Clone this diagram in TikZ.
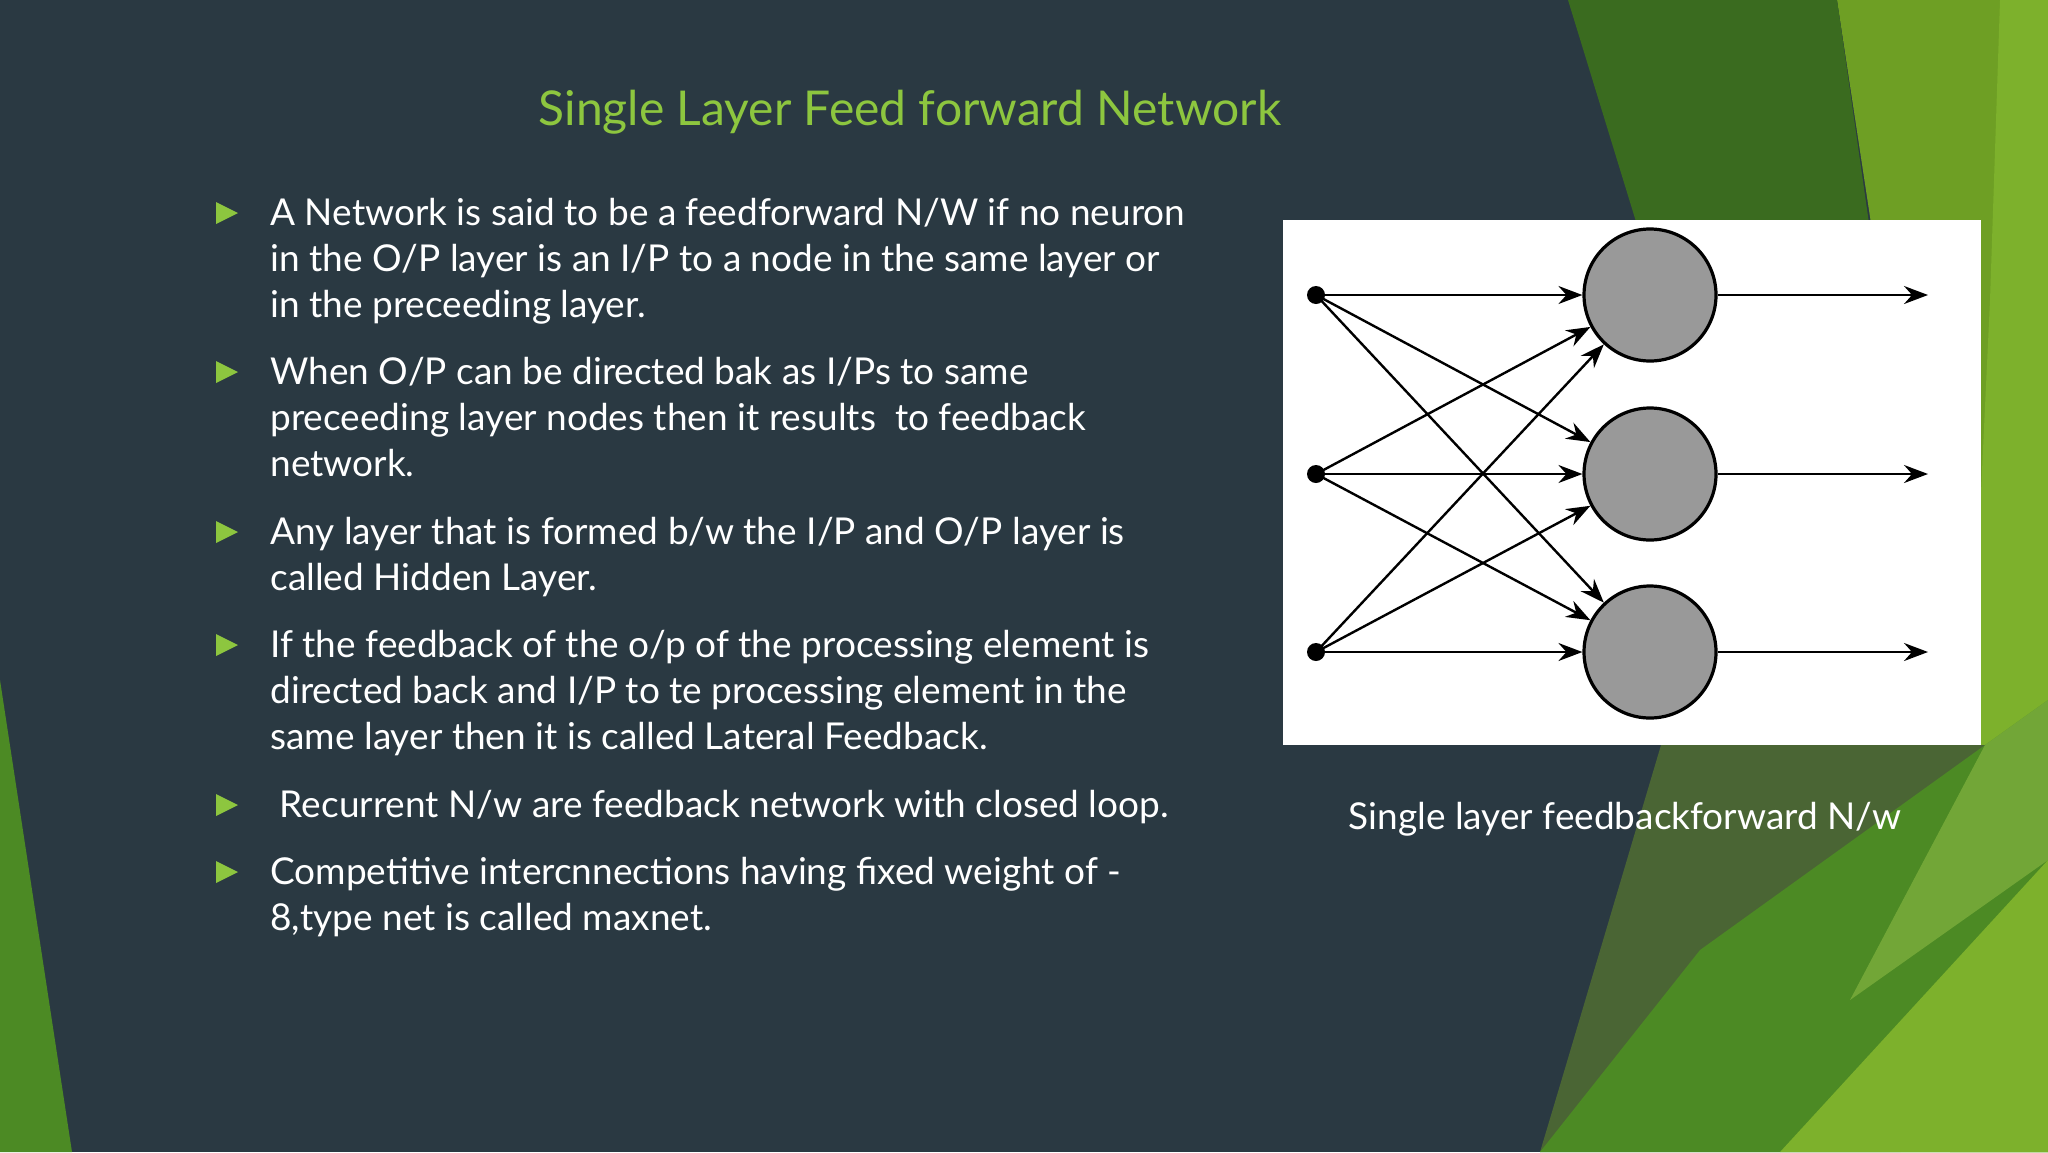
\documentclass[tikz,border=0pt]{standalone}
\usepackage{fontspec}
\setmainfont{Lato}
\usetikzlibrary{arrows.meta}
\definecolor{bg}{HTML}{2A3942}
\definecolor{gdark}{HTML}{3A6B1F}
\definecolor{gmid}{HTML}{4C8A24}
\definecolor{golive}{HTML}{4A6534}
\definecolor{glight}{HTML}{6E9F24}
\definecolor{gbright}{HTML}{7DB12C}
\definecolor{gpale}{HTML}{8CBA45}
\definecolor{ttl}{HTML}{8DC63F}
\definecolor{nfill}{HTML}{999999}
\tikzset{
 body/.style={anchor=north west,inner sep=0pt,align=left,text=white,font=\fontsize{18.5}{23}\selectfont},
 bul/.style={fill=ttl,draw=none},
 inp/.style={circle,fill=black,minimum size=9pt,inner sep=0pt},
 neuron/.style={circle,draw=black,line width=1.6pt,fill=nfill,minimum size=66pt,inner sep=0pt},
 conn/.style={line width=1.2pt,-{Stealth[length=12pt,width=9pt,inset=4pt]}}
}
\begin{document}
\begin{tikzpicture}[x=0.5pt,y=-0.5pt]
\useasboundingbox (0,0) rectangle (2048,1152);
\fill[bg] (0,0) rectangle (2048,1152);
% green background shapes
\fill[glight] (1837,0) -- (2048,0) -- (2048,1152) -- (1900,1152) -- (1872,230) -- cycle;
\fill[gbright] (2000,0) -- (2048,0) -- (2048,1152) -- (1950,1152) -- (1990,300) -- cycle;
\fill[gdark] (1568,0) -- (1837,0) -- (1880,300) -- (1660,300) -- cycle;
\fill[golive] (1661,745) -- (1985,745) -- (1900,1152) -- (1540,1152) -- (1566,1065) -- cycle;
\fill[gmid] (1540,1152) -- (1700,950) -- (1985,745) -- (2048,700) -- (2048,1152) -- cycle;
\fill[gbright] (1780,1152) -- (2048,860) -- (2048,1152) -- cycle;
\fill[gpale,opacity=0.6] (1850,1000) -- (1985,745) -- (2048,700) -- (2048,860) -- cycle;
\fill[gmid] (0,680) -- (72,1152) -- (0,1152) -- cycle;
% title
\node[text=ttl,font=\fontsize{24}{28}\selectfont] (title) at (910,112) {Single Layer Feed forward Network};
% bullets
\foreach \y in {226,385,545,658,818,885}{
 \fill[bul] (216,\y-24) -- (238,\y-13) -- (216,\y-2) -- cycle;}
\node[body] (b1) at (270,198) {A Network is said to be a feedforward N/W if no neuron\\in the O/P layer is an I/P to a node in the same layer or\\in the preceeding layer.};
\node[body] (b2) at (270,357) {When O/P can be directed bak as I/Ps to same\\preceeding layer nodes then it results\ \ to feedback\\network.};
\node[body] (b3) at (270,517) {Any layer that is formed b/w the I/P and O/P layer is\\called Hidden Layer.};
\node[body] (b4) at (270,630) {If the feedback of the o/p of the processing element is\\directed back and I/P to te processing element in the\\same layer then it is called Lateral Feedback.};
\node[body] (b5) at (270,790) {\ Recurrent N/w are feedback network with closed loop.};
\node[body] (b6) at (270,857) {Competitive intercnnections having fixed weight of -\\8,type net is called maxnet.};
% diagram
\fill[white] (1283,220) rectangle (1981,745);
\foreach \i/\y in {1/295,2/474,3/652}{
 \node[inp] (i\i) at (1316,\y) {};
 \node[neuron] (n\i) at (1650,\y) {};
 \coordinate (o\i) at (1928,\y);
}
\foreach \a in {1,2,3}{\foreach \b in {1,2,3}{\draw[conn] (i\a.center) -- (n\b);}}
\foreach \b in {1,2,3}{\draw[conn] (n\b) -- (o\b);}
\node[text=white,font=\fontsize{18.5}{23}\selectfont] (cap) at (1625,819) {Single layer feedbackforward N/w};
\end{tikzpicture}
\end{document}
